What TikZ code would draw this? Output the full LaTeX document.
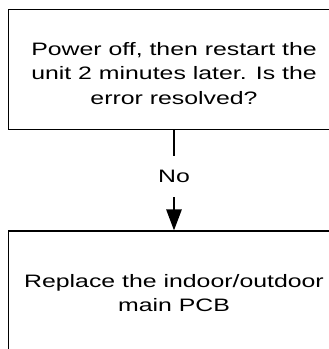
\documentclass[tikz,border=0pt]{standalone}
\usepackage{fontspec}
\setmainfont[FakeStretch=1.38]{Liberation Sans}
\usetikzlibrary{arrows.meta}
\begin{document}
\begin{tikzpicture}[x=1pt,y=1pt,
 box/.style={draw=black, line width=1.3pt, minimum width=331pt, minimum height=120pt, inner sep=0pt},
 txt/.style={align=center, inner sep=0pt, font=\fontsize{18}{24.5}\selectfont},
 lbl/.style={font=\fontsize{18}{20}\selectfont, minimum height=41pt, inner sep=0pt},
 conn/.style={draw=black, line width=1.3pt}]
\useasboundingbox (0,0) rectangle (329,-349);
\clip (0,0) rectangle (329,-349);
\node[box] (q) at (174,-69.5) {};
\node[txt] (qt) at ([yshift=-4pt]q.center) {Power off, then restart the\\unit 2 minutes later. Is the\\error resolved?};
\node[box] (r) at (174,-291) {};
\node[txt] (rt) at ([yshift=-2pt]r.center) {Replace the indoor/outdoor\\main PCB};
\node[lbl] (no) at (174,-176.5) {No};
\draw[conn] (q.south) -- (no.north);
\draw[conn, -{Triangle[length=21pt,width=15.5pt]}] (no.south) -- (r.north);
\end{tikzpicture}
\end{document}
